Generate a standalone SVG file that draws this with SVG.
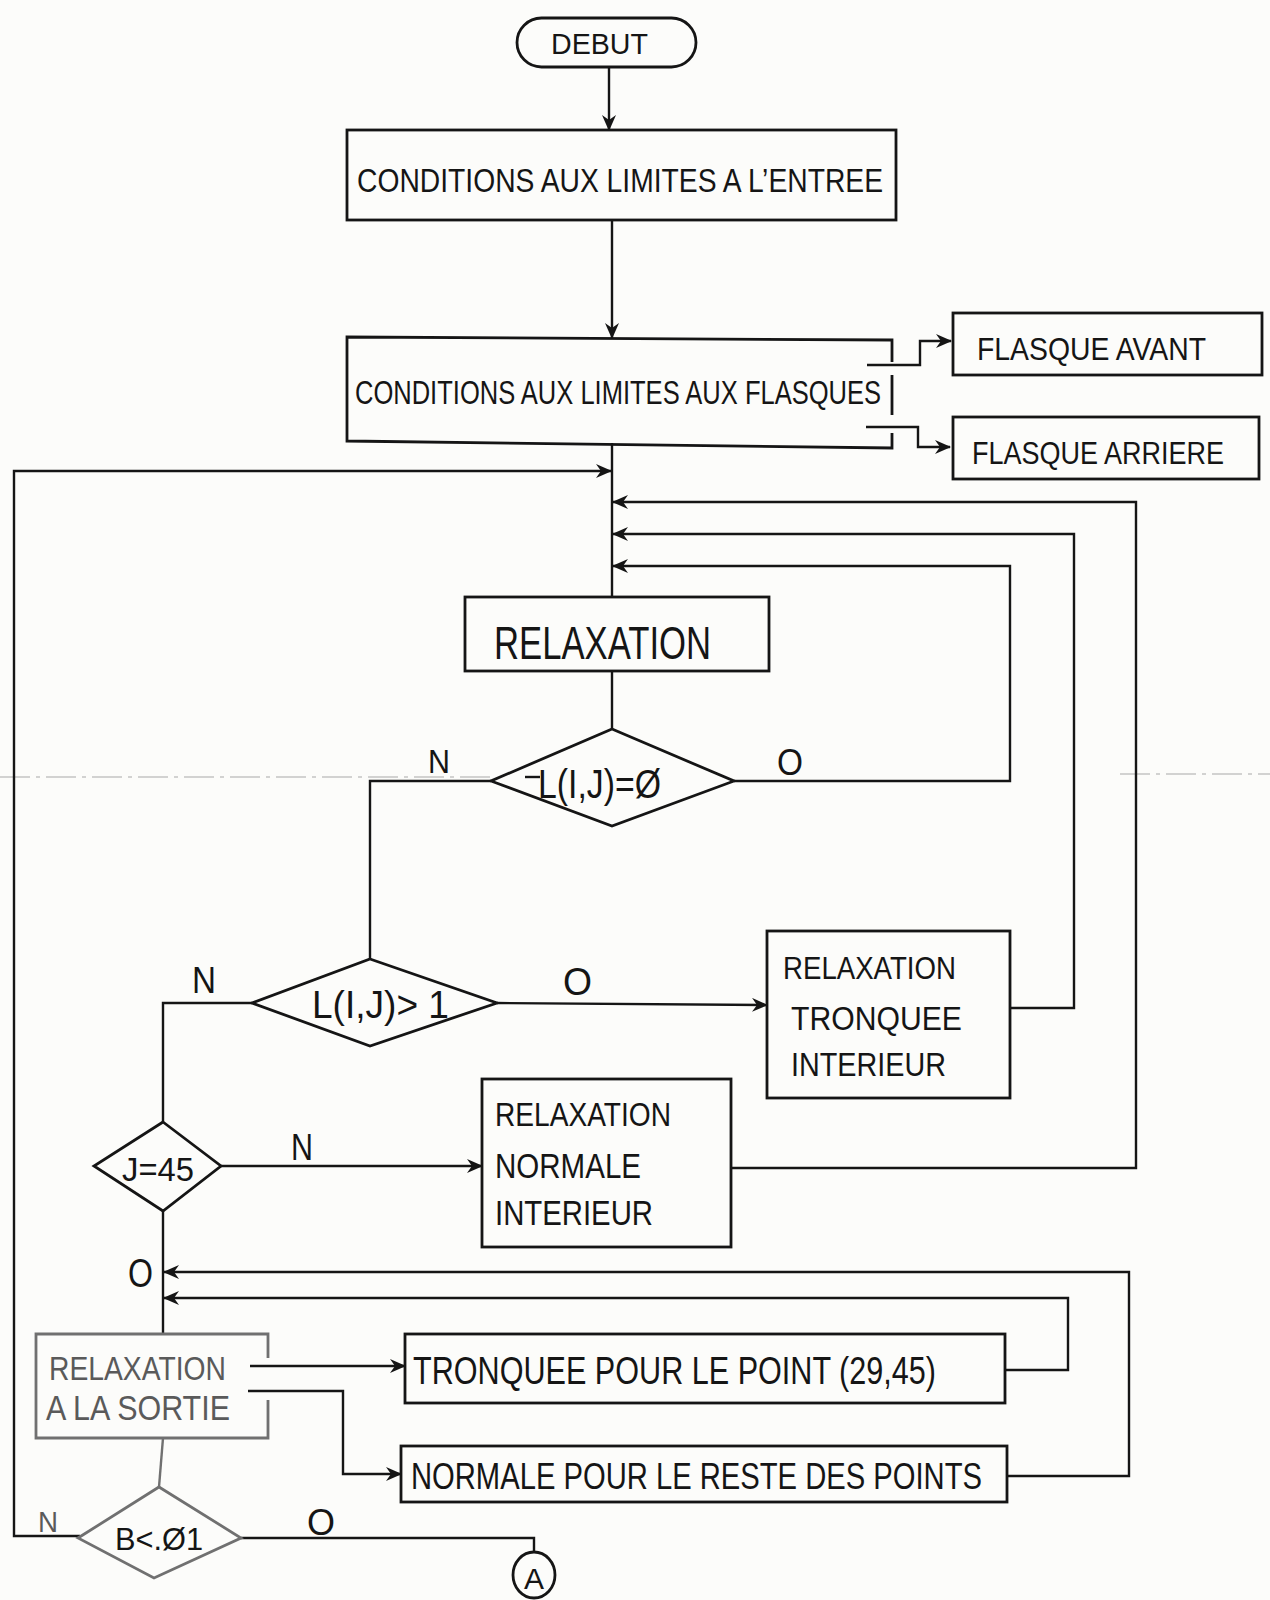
<svg xmlns="http://www.w3.org/2000/svg" width="1270" height="1600" viewBox="0 0 1270 1600">
<style>
.t{font-family:"Liberation Sans",Arial,sans-serif;fill:#151515;}
.box{fill:none;stroke:#151515;stroke-width:2.8;}
.ln{fill:none;stroke:#151515;stroke-width:2.4;}
.faint{stroke:#707070;}
.ft{fill:#5a5a5a;}
</style>
<defs>
<marker id="ar" viewBox="0 0 16 14" refX="15" refY="7" markerWidth="16" markerHeight="14" markerUnits="userSpaceOnUse" orient="auto">
<path d="M0,0 L16,7 L0,14 L5,7 z" fill="#151515"/>
</marker>
</defs>
<rect width="1270" height="1600" fill="#fcfcfa"/>
<g id="fold">
<line x1="0" y1="777" x2="490" y2="777" stroke="#c4c4c4" stroke-width="1.5" stroke-dasharray="30 6 4 6"/>
<line x1="1120" y1="774" x2="1270" y2="774" stroke="#c4c4c4" stroke-width="1.5" stroke-dasharray="30 6 4 6"/>
</g>
<g id="connectors">
<line class="ln" x1="609" y1="67" x2="609" y2="130" marker-end="url(#ar)"/>
<line class="ln" x1="612" y1="220" x2="612" y2="338" marker-end="url(#ar)"/>
<path class="ln" d="M867,365 H920 V341 H951" marker-end="url(#ar)"/>
<path class="ln" d="M866,427 H918 V447 H950" marker-end="url(#ar)"/>
<line class="ln" x1="612" y1="443" x2="612" y2="597"/>
<path class="ln" d="M80,1536 H14 V471 H611" marker-end="url(#ar)"/>
<path class="ln" d="M731,1168 H1136 V502 H613" marker-end="url(#ar)"/>
<path class="ln" d="M1010,1008 H1074 V534 H613" marker-end="url(#ar)"/>
<path class="ln" d="M734,781 H1010 V566 H613" marker-end="url(#ar)"/>
<line class="ln" x1="612" y1="671" x2="612" y2="729"/>
<path class="ln" d="M491,781 H370 V959"/>
<line class="ln" x1="497" y1="1003" x2="767" y2="1005" marker-end="url(#ar)"/>
<path class="ln" d="M252,1003 H163 V1122"/>
<line class="ln" x1="221" y1="1166" x2="482" y2="1166" marker-end="url(#ar)"/>
<line class="ln" x1="163" y1="1211" x2="163" y2="1334"/>
<path class="ln" d="M1007,1476 H1129 V1272 H164" marker-end="url(#ar)"/>
<path class="ln" d="M1005,1370 H1068 V1298 H164" marker-end="url(#ar)"/>
<line class="ln" x1="250" y1="1366" x2="405" y2="1366" marker-end="url(#ar)"/>
<path class="ln" d="M248,1391 H343 V1474 H401" marker-end="url(#ar)"/>
<line class="ln faint" x1="163" y1="1438" x2="159" y2="1487"/>
<path class="ln" d="M241,1538 H534 V1552"/>
</g>
<g id="debut">
<rect class="box" x="517" y="18" width="179" height="49" rx="24.5"/>
<text class="t" x="551" y="54" font-size="30" textLength="97" lengthAdjust="spacingAndGlyphs">DEBUT</text>
</g>
<g id="cond-entree">
<rect class="box" x="347" y="130" width="549" height="90"/>
<text class="t" x="357" y="192" font-size="34" textLength="526" lengthAdjust="spacingAndGlyphs">CONDITIONS AUX LIMITES A L’ENTREE</text>
</g>
<g id="cond-flasques">
<path class="box" d="M892,362 V340 L347,337 V441 L892,448 V433"/>
<path class="box" d="M892,375 V415"/>
<text class="t" x="355" y="404" font-size="33" textLength="526" lengthAdjust="spacingAndGlyphs">CONDITIONS AUX LIMITES AUX FLASQUES</text>
</g>
<g id="flasque-avant">
<rect class="box" x="953" y="313" width="309" height="62"/>
<text class="t" x="977" y="360" font-size="31" textLength="229" lengthAdjust="spacingAndGlyphs">FLASQUE AVANT</text>
</g>
<g id="flasque-arriere">
<rect class="box" x="953" y="417" width="306" height="62"/>
<text class="t" x="972" y="464" font-size="31" textLength="252" lengthAdjust="spacingAndGlyphs">FLASQUE ARRIERE</text>
</g>
<g id="relaxation">
<rect class="box" x="465" y="597" width="304" height="74"/>
<text class="t" x="494" y="659" font-size="46" textLength="217" lengthAdjust="spacingAndGlyphs">RELAXATION</text>
</g>
<g id="test-l0">
<polygon class="box" points="612,729 734,781 612,826 491,781"/>
<line class="ln" x1="525" y1="777" x2="540" y2="777"/>
<text class="t" x="538" y="798" font-size="40" textLength="123" lengthAdjust="spacingAndGlyphs">L(I,J)=Ø</text>
<text class="t" x="428" y="773" font-size="34" textLength="22" lengthAdjust="spacingAndGlyphs">N</text>
<text class="t" x="777" y="775" font-size="36" textLength="26" lengthAdjust="spacingAndGlyphs">O</text>
</g>
<g id="test-l1">
<polygon class="box" points="370,959 497,1003 370,1046 252,1003"/>
<text class="t" x="312" y="1018" font-size="38" textLength="137" lengthAdjust="spacingAndGlyphs">L(I,J)&gt; 1</text>
<text class="t" x="192" y="993" font-size="36" textLength="24" lengthAdjust="spacingAndGlyphs">N</text>
<text class="t" x="563" y="995" font-size="38" textLength="29" lengthAdjust="spacingAndGlyphs">O</text>
</g>
<g id="relax-tronquee">
<rect class="box" x="767" y="931" width="243" height="167"/>
<text class="t" x="783" y="979" font-size="32" textLength="173" lengthAdjust="spacingAndGlyphs">RELAXATION</text>
<text class="t" x="791" y="1030" font-size="33" textLength="171" lengthAdjust="spacingAndGlyphs">TRONQUEE</text>
<text class="t" x="791" y="1076" font-size="33" textLength="155" lengthAdjust="spacingAndGlyphs">INTERIEUR</text>
</g>
<g id="test-j45">
<polygon class="box" points="163,1122 221,1166 163,1211 94,1166"/>
<text class="t" x="122" y="1181" font-size="34" textLength="72" lengthAdjust="spacingAndGlyphs">J=45</text>
<text class="t" x="291" y="1160" font-size="36" textLength="22" lengthAdjust="spacingAndGlyphs">N</text>
<text class="t" x="128" y="1287" font-size="40" textLength="25" lengthAdjust="spacingAndGlyphs">O</text>
</g>
<g id="relax-normale">
<rect class="box" x="482" y="1079" width="249" height="168"/>
<text class="t" x="495" y="1126" font-size="33" textLength="176" lengthAdjust="spacingAndGlyphs">RELAXATION</text>
<text class="t" x="495" y="1178" font-size="35" textLength="146" lengthAdjust="spacingAndGlyphs">NORMALE</text>
<text class="t" x="495" y="1225" font-size="35" textLength="158" lengthAdjust="spacingAndGlyphs">INTERIEUR</text>
</g>
<g id="relax-sortie">
<path class="box faint" d="M268,1358 V1334 H36 V1438 H268 V1400"/>
<text class="t ft" x="49" y="1380" font-size="33" textLength="177" lengthAdjust="spacingAndGlyphs">RELAXATION</text>
<text class="t ft" x="46" y="1420" font-size="35" textLength="184" lengthAdjust="spacingAndGlyphs">A LA SORTIE</text>
</g>
<g id="tronquee-point">
<rect class="box" x="405" y="1334" width="600" height="69"/>
<text class="t" x="413" y="1384" font-size="38" textLength="523" lengthAdjust="spacingAndGlyphs">TRONQUEE POUR LE POINT (29,45)</text>
</g>
<g id="normale-reste">
<rect class="box" x="401" y="1446" width="606" height="56"/>
<text class="t" x="411" y="1489" font-size="37" textLength="571" lengthAdjust="spacingAndGlyphs">NORMALE POUR LE RESTE DES POINTS</text>
</g>
<g id="test-b">
<polygon class="box faint" points="159,1487 241,1538 154,1578 78,1538"/>
<text class="t" x="115" y="1550" font-size="32" textLength="88" lengthAdjust="spacingAndGlyphs">B&lt;.Ø1</text>
<text class="t ft" x="38" y="1532" font-size="30" textLength="20" lengthAdjust="spacingAndGlyphs">N</text>
<text class="t" x="307" y="1535" font-size="36" textLength="28" lengthAdjust="spacingAndGlyphs">O</text>
</g>
<g id="connector-a">
<ellipse class="box" cx="534" cy="1575" rx="21" ry="23"/>
<text class="t" x="534" y="1589" font-size="30" text-anchor="middle">A</text>
</g>
</svg>
